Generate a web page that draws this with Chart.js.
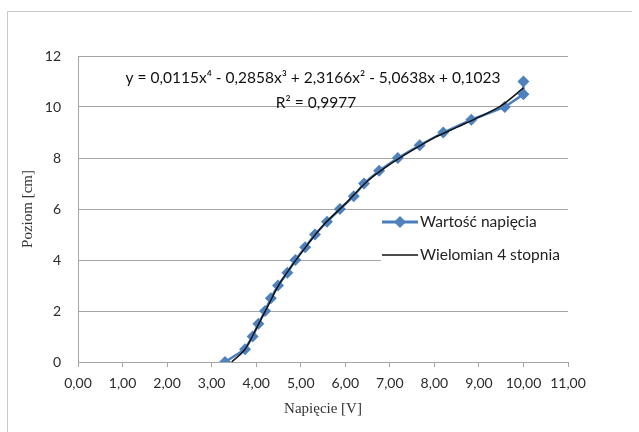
<!DOCTYPE html>
<html lang="pl">
<head>
  <meta charset="UTF-8" />
  <script src="https://cdn.jsdelivr.net/npm/chart.js"></script>
  <title>Poziom a napięcie</title>
  <style>
    html, body { margin: 0; padding: 0; background: #fff; }
    #wrap { width: 639px; height: 432px; }
  </style>
</head>
<body>
  <div id="wrap"><canvas id="wykres" width="639" height="432"></canvas></div>

  <script>
    // dane pomiarowe
    const napiecie = [3.30, 3.75, 3.92, 4.05, 4.20, 4.33, 4.49, 4.70, 4.88, 5.10, 5.32, 5.59, 5.88, 6.19, 6.42, 6.76, 7.18, 7.67, 8.20, 8.83, 9.58, 10.00, 10.00]
    const poziom = [0, 0.5, 1, 1.5, 2, 2.5, 3, 3.5, 4, 4.5, 5, 5.5, 6, 6.5, 7, 7.5, 8, 8.5, 9, 9.5, 10, 10.5, 11]

    // linia trendu
    const trendX = [3.45, 3.75, 4.0, 4.25, 4.5, 4.75, 5.0, 5.5, 6.0, 6.5, 7.0, 7.5, 8.0, 8.5, 9.0, 9.5, 10.0]
    const trendY = [0, 0.5, 1.3, 2.15, 3.0, 3.65, 4.25, 5.35, 6.2, 7.1, 7.75, 8.3, 8.8, 9.2, 9.6, 10.05, 10.75]

    const xTicks = [0, 1, 2, 3, 4, 5, 6, 7, 8, 9, 10, 11]
    const yTicks = [0, 2, 4, 6, 8, 10, 12]

    const etykiety = ['Wartość napięcia', 'Wielomian 4 stopnia']
    const rownanie = 'y = 0,0115x⁴ - 0,2858x³ + 2,3166x² - 5,0638x + 0,1023'
    const r2 = 'R² = 0,9977'

    const niebieski = '#4A7EBB'
    const siatka = '#A6A6A6'
    const sans = 'Lato, "Open Sans", sans-serif'
    const serif = '"Liberation Serif", "DejaVu Serif", serif'

    const pts = (xs, ys) => xs.map((x, i) => ({ x: x, y: ys[i] }))

    // ramka, legenda i równanie
    const dodatki = {
      id: 'dodatki',
      beforeDraw(chart) {
        const ctx = chart.ctx
        ctx.save()
        ctx.strokeStyle = '#C8C8C8'
        ctx.lineWidth = 1
        ctx.beginPath()
        ctx.moveTo(7.5, 432)
        ctx.lineTo(7.5, 11.5)
        ctx.lineTo(632, 11.5)
        ctx.stroke()
        ctx.restore()
      },
      afterDraw(chart) {
        const ctx = chart.ctx
        ctx.save()
        // legenda
        ctx.fillStyle = '#fff'
        ctx.fillRect(381, 212, 197, 56)
        ctx.lineWidth = 3
        ctx.strokeStyle = niebieski
        ctx.beginPath(); ctx.moveTo(382, 222); ctx.lineTo(418, 222); ctx.stroke()
        ctx.fillStyle = '#4F81BD'
        ctx.beginPath()
        ctx.moveTo(400, 216); ctx.lineTo(406, 222); ctx.lineTo(400, 228); ctx.lineTo(394, 222)
        ctx.closePath(); ctx.fill()
        ctx.lineWidth = 1.5
        ctx.strokeStyle = '#111'
        ctx.beginPath(); ctx.moveTo(382, 255); ctx.lineTo(418, 255); ctx.stroke()
        ctx.fillStyle = '#222'
        ctx.font = '15.5px ' + sans
        ctx.textBaseline = 'middle'
        ctx.textAlign = 'left'
        ctx.fillText(etykiety[0], 420, 222)
        ctx.fillText(etykiety[1], 420, 255)
        // równanie trendu
        ctx.font = '15.5px ' + sans
        ctx.textAlign = 'center'
        ctx.fillStyle = '#111'
        ctx.fillText(rownanie, 313, 78)
        ctx.fillText(r2, 316, 103)
        ctx.restore()
      }
    }

    new Chart(document.getElementById('wykres'), {
      type: 'scatter',
      data: {
        datasets: [
          {
            label: etykiety[0],
            data: pts(napiecie, poziom),
            showLine: true,
            borderColor: niebieski,
            borderWidth: 2.5,
            backgroundColor: '#4F81BD',
            pointStyle: 'rectRot',
            pointRadius: 6,
            pointBorderWidth: 0,
            pointBackgroundColor: '#4F81BD',
            order: 2
          },
          {
            label: etykiety[1],
            data: pts(trendX, trendY),
            showLine: true,
            borderColor: '#111',
            borderWidth: 1.5,
            pointRadius: 0,
            cubicInterpolationMode: 'monotone',
            order: 1
          }
        ]
      },
      options: {
        responsive: false,
        animation: false,
        events: [],
        layout: { padding: { top: 56, right: 71, bottom: 0, left: 0 } },
        plugins: { legend: { display: false }, tooltip: { enabled: false } },
        scales: {
          x: {
            type: 'linear',
            min: 0, max: 11,
            afterFit: s => { s.height = 70 },
            afterBuildTicks: s => { s.ticks = xTicks.map(v => ({ value: v })) },
            grid: { drawOnChartArea: false, drawTicks: true, tickLength: 5, color: siatka },
            border: { color: siatka, width: 1 },
            ticks: {
              padding: 8,
              color: '#2b2b2b',
              font: { family: sans, size: 14 },
              maxRotation: 0,
              callback: v => v.toFixed(2).replace('.', ',')
            },
            title: {
              display: true,
              text: 'Napięcie [V]',
              color: '#333',
              font: { family: serif, size: 15 },
              padding: { top: 0, bottom: 14 }
            }
          },
          y: {
            min: 0, max: 12,
            afterFit: s => { s.width = 78 },
            afterBuildTicks: s => { s.ticks = yTicks.map(v => ({ value: v })) },
            grid: { color: siatka, drawTicks: false },
            border: { color: siatka, width: 1 },
            ticks: {
              padding: 17,
              color: '#2b2b2b',
              font: { family: sans, size: 14 }
            },
            title: {
              display: true,
              text: 'Poziom [cm]',
              color: '#333',
              font: { family: serif, size: 15 },
              padding: { top: 19, bottom: 0 }
            }
          }
        }
      },
      plugins: [dodatki]
    })
  </script>
</body>
</html>
